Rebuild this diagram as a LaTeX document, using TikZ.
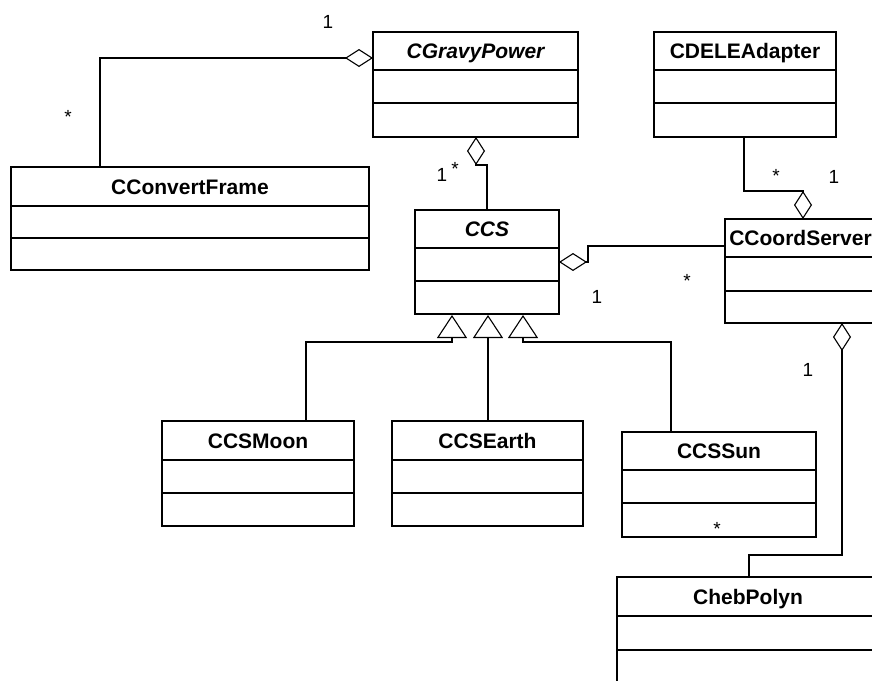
\documentclass[tikz,border=0pt]{standalone}
\usepackage{fontspec}
\setmainfont{Liberation Sans}
\usetikzlibrary{arrows.meta}
\newcommand\umlclass[8]{%
  \node[clsbox, minimum width={(#4-#2)*1pt}, minimum height={(#5-#3)*1pt}] (#1) at (#2,#3) {};
  \draw[clsline] (#2,#6) -- (#4,#6);
  \draw[clsline] (#2,#7) -- (#4,#7);
  \node[clsname] (#1-name) at ({(#2+#4)/2},{(#3+#6)/2}) {#8};
}
\begin{document}
\begin{tikzpicture}[x=1pt,y=-1pt,
  clsbox/.style={draw, line width=1.6pt, inner sep=0pt, outer sep=0pt, anchor=north west},
  clsline/.style={line width=1.6pt},
  clsname/.style={font=\fontsize{21}{25}\selectfont\bfseries, text height=15pt, text depth=0pt, inner sep=0pt},
  mult/.style={font=\fontsize{19}{23}\selectfont, text height=13.6pt, text depth=0pt, inner sep=0pt},
  conn/.style={line width=1.1pt},
  agg/.style={conn, -{Diamond[open, length=28pt, width=18pt]}},
  gen/.style={conn, -{Triangle[open, length=23pt, width=30pt]}}]
\useasboundingbox (0,0) rectangle (872,680);
\clip (0,0) rectangle (872,680);

\umlclass{gravy}{373}{32}{578}{137}{70}{103}{\itshape CGravyPower}
\umlclass{cframe}{11}{167}{369}{270}{206}{238}{CConvertFrame}
\umlclass{cdele}{654}{32}{836}{137}{70}{103}{CDELEAdapter}
\umlclass{ccs}{415}{210}{559}{314}{248}{281}{\itshape CCS}
\umlclass{coord}{725}{219}{876}{323}{257}{291}{CCoordServer}
\umlclass{moon}{162}{421}{354}{526}{460}{493}{CCSMoon}
\umlclass{earth}{392}{421}{583}{526}{460}{493}{CCSEarth}
\umlclass{sun}{622}{432}{816}{537}{470}{503}{CCSSun}
\umlclass{cheb}{617}{577}{879}{700}{616}{650}{ChebPolyn}

% aggregations
\draw[agg] (cframe.north -| 100,0) |- (gravy.west |- 0,58);
\draw[agg] (ccs.north -| 487,0) -- (487,165) -- (476,165) -- (gravy.south -| 476,0);
\draw[agg] (cdele.south -| 744,0) -- (744,191) -- (803,191) -- (coord.north -| 803,0);
\draw[agg] (coord.west |- 0,246) -- (588,246) -- (588,262) -- (ccs.east |- 0,262);
\draw[agg] (cheb.north -| 749,0) -- (749,555) -- (842,555) -- (coord.south -| 842,0);

% generalizations
\draw[gen] (moon.north -| 306,0) -- (306,342) -- (452,342) -- (452,315);
\draw[gen] (earth.north -| 488,0) -- (488,315);
\draw[gen] (sun.north -| 671,0) -- (671,342) -- (523,342) -- (523,315);

% multiplicities
\node[mult] (m1) at (328,22) {1};
\node[mult] (m2) at (68,117) {*};
\node[mult] (m3) at (442,175) {1};
\node[mult] (m4) at (455,169) {*};
\node[mult] (m5) at (776,176) {*};
\node[mult] (m6) at (834,177) {1};
\node[mult] (m7) at (687,281) {*};
\node[mult] (m8) at (597,297) {1};
\node[mult] (m9) at (808,370) {1};
\node[mult] (m10) at (717,529) {*};
\end{tikzpicture}
\end{document}
